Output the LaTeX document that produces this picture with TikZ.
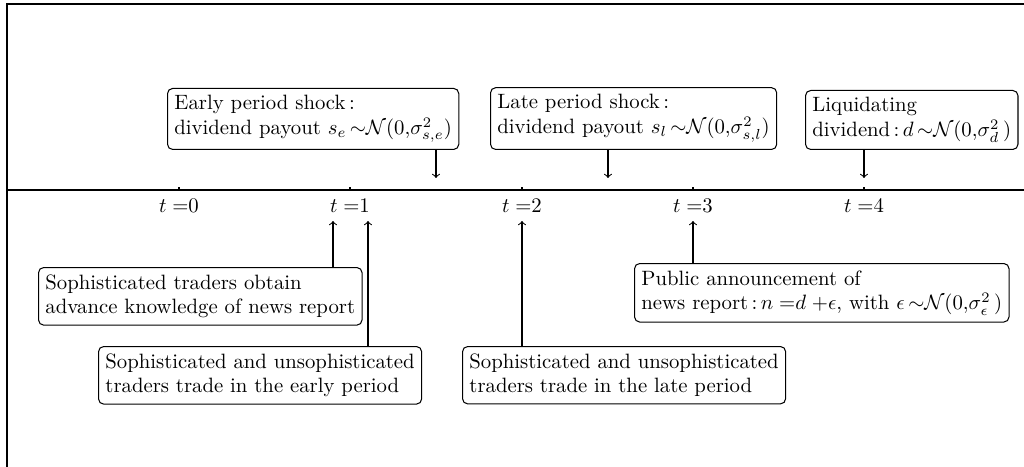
\documentclass[tikz,border=0pt]{standalone}
\usepackage{amsmath}

\begin{document}
\begin{tikzpicture}[x=0.482pt, y=-0.482pt, line width=0.5pt,
    evbox/.style={draw, rounded corners=2.5pt, align=left},
    tlabel/.style={inner sep=0.75pt}]
\useasboundingbox (0,0) rectangle (1024,467);
\draw (7,467) -- (7,4) -- (1024,4);

% time line
\draw (7,190) -- (1024,190);
\foreach \i/\x in {0/179,1/350,2/522,3/693,4/864}{
  \draw (\x,190) -- (\x,187);
  \node[tlabel] (t\i) at (\x,206) {$t\;{=}\i$};
}

% shocks above the line
\node[evbox, anchor=south west] (early) at (167,150) {Early period shock\,:\\dividend payout $s_e\,{\sim}\mathcal{N}(0{,}\sigma^2_{s,e})$};
\node[evbox, anchor=south west] (late) at (490,150) {Late period shock\,:\\dividend payout $s_l\,{\sim}\mathcal{N}(0{,}\sigma^2_{s,l})$};
\node[evbox, anchor=south west] (liq) at (805,150) {Liquidating\\dividend\,:\,$d\,{\sim}\mathcal{N}(0{,}\sigma^2_d\,)$};

\coordinate (p1) at (436,178);
\coordinate (p2) at (608,178);
\coordinate (p3) at (864,178);
\draw[->] (early.south -| p1) -- (p1);
\draw[->] (late.south -| p2) -- (p2);
\draw[->] (liq.south -| p3) -- (p3);

% trading below the line
\node[evbox, anchor=north west] (obtain) at (38,267) {Sophisticated traders obtain\\advance knowledge of news report};
\node[evbox, anchor=north west] (tradeE) at (98,346) {Sophisticated and unsophisticated\\traders trade in the early period};
\node[evbox, anchor=north west] (tradeL) at (462,346) {Sophisticated and unsophisticated\\traders trade in the late period};
\node[evbox, anchor=north west] (news) at (634,263) {Public announcement of\\news report\,:\,$n\;{=}d\;{+}\epsilon$, with $\epsilon\,{\sim}\mathcal{N}(0{,}\sigma^2_\epsilon\,)$};

\coordinate (q1) at (333,221);
\coordinate (q2) at (368,221);
\coordinate (q3) at (522,221);
\coordinate (q4) at (693,221);
\draw[->] (obtain.north -| q1) -- (q1);
\draw[->] (tradeE.north -| q2) -- (q2);
\draw[->] (tradeL.north -| q3) -- (q3);
\draw[->] (news.north -| q4) -- (q4);
\end{tikzpicture}
\end{document}
